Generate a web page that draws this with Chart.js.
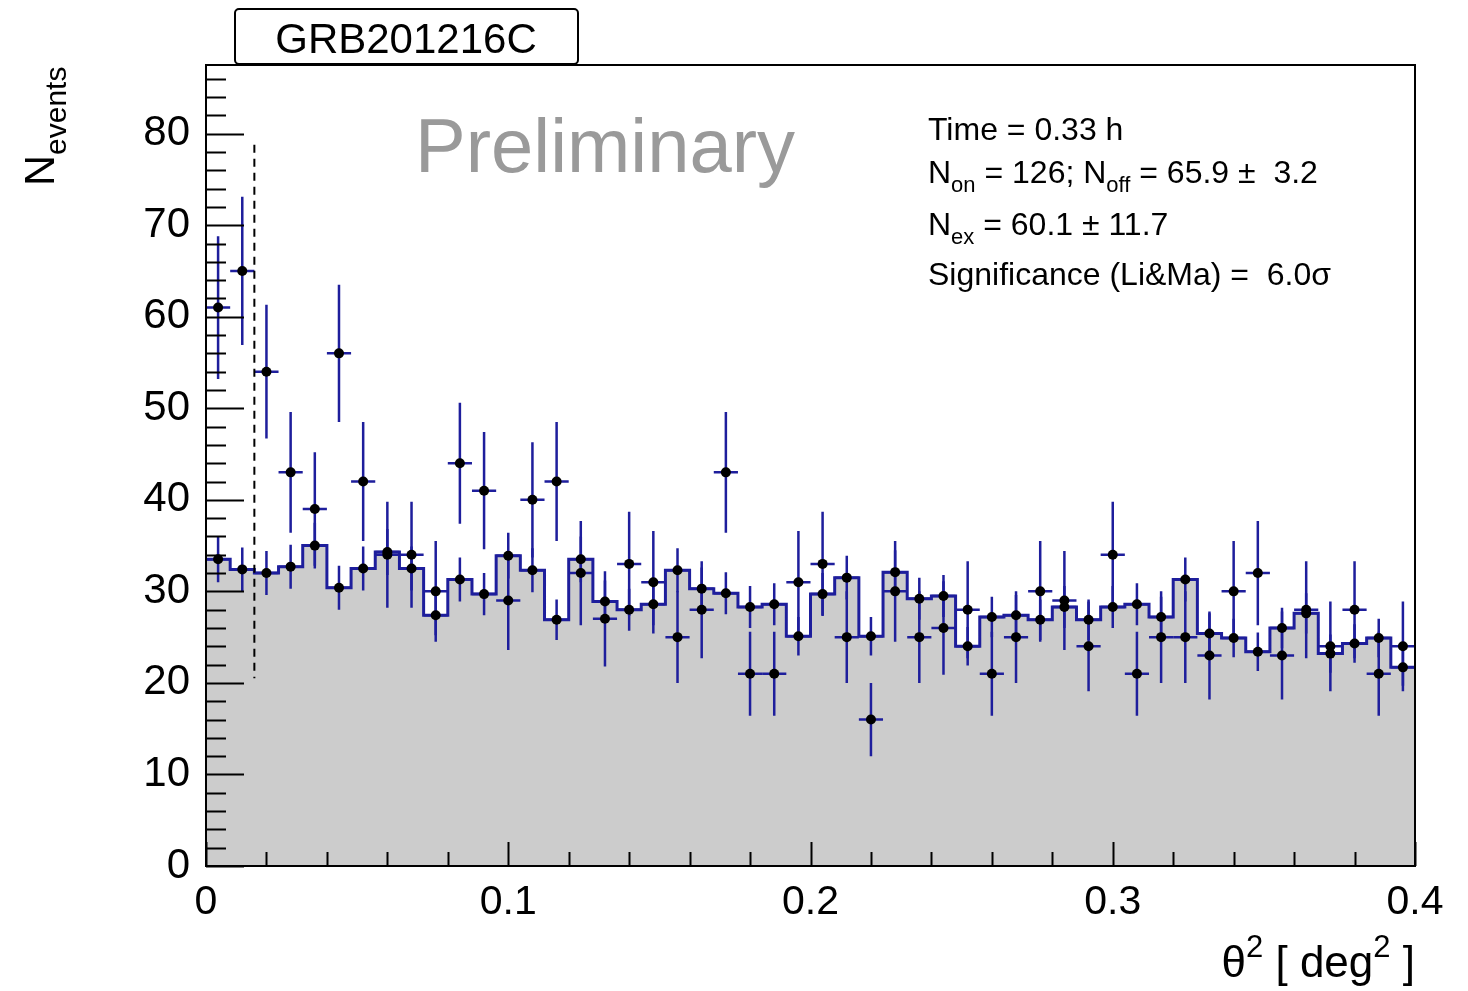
<!DOCTYPE html>
<html>
<head>
<meta charset="utf-8">
<script src="https://cdn.jsdelivr.net/npm/chart.js@4.4.1/dist/chart.umd.min.js"></script>
<style>
  html, body { margin: 0; padding: 0; background: #fff; }
</style>
</head>
<body>
<canvas id="theta2" width="1468" height="991"></canvas>
<script>
// theta^2 distribution, 50 bins of 0.008 deg^2
const binWidth = 0.008;
const nBins = 50;

// ON counts per bin
const onCounts = [61, 65, 54, 43, 39, 56, 42, 34, 34, 30, 44, 41, 29, 40, 42, 32, 27, 33, 31, 25,
                  28, 43, 21, 21, 31, 33, 25, 16, 30, 25, 26, 28, 21, 25, 30, 29, 24, 34, 21, 25,
                  25, 23, 30, 32, 23, 28, 24, 28, 21, 24];
const onErrors = [7.8, 8.1, 7.3, 6.6, 6.2, 7.5, 6.5, 5.8, 5.8, 5.5, 6.6, 6.4, 5.4, 6.3, 6.5, 5.7, 5.2, 5.7, 5.6, 5.0,
                  5.3, 6.6, 4.6, 4.6, 5.6, 5.7, 5.0, 4.0, 5.5, 5.0, 5.1, 5.3, 4.6, 5.0, 5.5, 5.4, 4.9, 5.8, 4.6, 5.0,
                  5.0, 4.8, 5.5, 5.7, 4.8, 5.3, 4.9, 5.3, 4.6, 4.9];

// normalised OFF counts per bin
const offCounts = [33.5, 32.4, 32.0, 32.7, 35.0, 30.4, 32.5, 34.3, 32.5, 27.4, 31.3, 29.7, 33.9, 32.3, 26.9, 33.5, 28.9, 28.0, 28.6, 32.3,
                   30.3, 29.8, 28.3, 28.6, 25.1, 29.7, 31.5, 25.1, 32.1, 29.2, 29.5, 24.0, 27.2, 27.4, 26.9, 28.3, 26.9, 28.3, 28.6, 27.2,
                   31.3, 25.4, 24.9, 23.4, 26.0, 27.6, 23.2, 24.3, 24.9, 21.7];
const offErrors = [2.5, 2.4, 2.4, 2.4, 2.5, 2.4, 2.4, 2.5, 2.4, 2.2, 2.4, 2.3, 2.5, 2.4, 2.2, 2.5, 2.3, 2.3, 2.3, 2.4,
                   2.3, 2.3, 2.3, 2.3, 2.1, 2.3, 2.4, 2.1, 2.4, 2.3, 2.3, 2.1, 2.2, 2.2, 2.2, 2.3, 2.2, 2.3, 2.3, 2.2,
                   2.4, 2.2, 2.1, 2.1, 2.2, 2.2, 2.1, 2.1, 2.1, 2.0];

const thetaCut = 0.016;
const cutLineRange = [20.5, 78.8];

const sourceName = "GRB201216C";
const statLines = [
  [["Time = 0.33 h"]],
  [["N"], ["on", "sub"], [" = 126; N"], ["off", "sub"], [" = 65.9 \u00B1  3.2"]],
  [["N"], ["ex", "sub"], [" = 60.1 \u00B1 11.7"]],
  [["Significance (Li&Ma) =  6.0\u03C3"]]
];

const FONT = "'Liberation Sans', Arial, Helvetica, sans-serif";
const BLUE = "#1e1e9c";

const centers = onCounts.map((_, i) => (i + 0.5) * binWidth);
const onPoints = onCounts.map((v, i) => ({ x: centers[i], y: v }));
const offPoints = offCounts.map((v, i) => ({ x: centers[i], y: v }));
// histogram outline: one point per bin's left edge, plus the last right edge
const offSteps = offCounts.map((v, i) => ({ x: i * binWidth, y: v }));
offSteps.push({ x: nBins * binWidth, y: offCounts[nBins - 1] });

function drawRich(ctx, parts, x, y, size) {
  let cx = x;
  parts.forEach(([t, kind]) => {
    const s = kind ? Math.round(size * 0.7) : size;
    const dy = kind === "sub" ? size * 0.28 : kind === "sup" ? -size * 0.45 : 0;
    ctx.font = s + "px " + FONT;
    ctx.fillText(t, cx, y + dy);
    cx += ctx.measureText(t).width;
  });
  return cx - x;
}

function measureRich(ctx, parts, size) {
  let w = 0;
  parts.forEach(([t, kind]) => {
    const s = kind ? Math.round(size * 0.7) : size;
    ctx.font = s + "px " + FONT;
    w += ctx.measureText(t).width;
  });
  return w;
}

const errorBars = {
  id: "errorBars",
  afterDatasetDraw(chart, args) {
    if (args.index !== 2) return;
    const { ctx, scales: { x, y } } = chart;
    ctx.save();
    ctx.strokeStyle = BLUE;
    ctx.lineWidth = 2.5;
    const draw = (vals, errs) => {
      vals.forEach((v, i) => {
        const px = x.getPixelForValue(centers[i]);
        const x0 = x.getPixelForValue(i * binWidth);
        const x1 = x.getPixelForValue((i + 1) * binWidth);
        const py = y.getPixelForValue(v);
        ctx.beginPath();
        ctx.moveTo(px, y.getPixelForValue(v - errs[i]));
        ctx.lineTo(px, y.getPixelForValue(v + errs[i]));
        ctx.moveTo(x0, py);
        ctx.lineTo(x1, py);
        ctx.stroke();
      });
    };
    draw(offCounts, offErrors);
    draw(onCounts, onErrors);
    ctx.restore();
  }
};

const decorations = {
  id: "decorations",
  afterDatasetsDraw(chart) {
    const { ctx, chartArea: a, scales: { x, y } } = chart;
    ctx.save();
    ctx.strokeStyle = "#000";
    ctx.lineWidth = 2;

    // inward ticks on y
    for (let v = 0; v <= 86; v += 2) {
      const py = Math.round(y.getPixelForValue(v)) + 0.5;
      const len = v % 10 === 0 ? 38 : 20;
      ctx.beginPath();
      ctx.moveTo(a.left, py);
      ctx.lineTo(a.left + len, py);
      ctx.stroke();
    }
    // inward ticks on x
    for (let k = 0; k <= 20; k++) {
      const px = Math.round(x.getPixelForValue(k * 0.02)) + 0.5;
      const len = k % 5 === 0 ? 24 : 14;
      ctx.beginPath();
      ctx.moveTo(px, a.bottom);
      ctx.lineTo(px, a.bottom - len);
      ctx.stroke();
    }

    // signal region cut
    ctx.setLineDash([8, 6]);
    const cx = x.getPixelForValue(thetaCut);
    ctx.beginPath();
    ctx.moveTo(cx, y.getPixelForValue(cutLineRange[1]));
    ctx.lineTo(cx, y.getPixelForValue(cutLineRange[0]));
    ctx.stroke();
    ctx.setLineDash([]);

    // frame
    ctx.strokeRect(a.left, a.top, a.right - a.left, a.bottom - a.top);
    ctx.restore();
  },
  afterDraw(chart) {
    const { ctx, chartArea: a } = chart;
    ctx.save();
    ctx.fillStyle = "#000";
    ctx.strokeStyle = "#000";
    ctx.textBaseline = "alphabetic";

    // title box
    ctx.lineWidth = 2;
    ctx.beginPath();
    ctx.roundRect(235, 9, 343, 55, 4);
    ctx.stroke();
    ctx.font = "42px " + FONT;
    ctx.textAlign = "center";
    ctx.fillText(sourceName, 406, 53);

    // preliminary label
    ctx.textAlign = "left";
    ctx.fillStyle = "#9a9a9a";
    ctx.font = "76px " + FONT;
    ctx.fillText("Preliminary", 415, 172);

    // statistics
    ctx.fillStyle = "#000";
    const baselines = [140, 183, 235, 285];
    statLines.forEach((parts, i) => drawRich(ctx, parts, 928, baselines[i], 32));

    // x axis title
    const xTitle = [["\u03B8"], ["2", "sup"], [" [ deg"], ["2", "sup"], [" ]"]];
    const w = measureRich(ctx, xTitle, 44);
    drawRich(ctx, xTitle, a.right - w, 977, 44);

    // y axis title
    ctx.translate(54, 186);
    ctx.rotate(-Math.PI / 2);
    drawRich(ctx, [["N"], ["events", "sub"]], 0, 0, 43);
    ctx.restore();
  }
};

new Chart(document.getElementById("theta2"), {
  type: "line",
  data: {
    datasets: [
      {
        label: "ON",
        data: onPoints,
        showLine: false,
        pointRadius: 5,
        pointBackgroundColor: "#000",
        pointBorderColor: "#000",
        pointBorderWidth: 0
      },
      {
        label: "OFF",
        data: offPoints,
        showLine: false,
        pointRadius: 5,
        pointBackgroundColor: "#000",
        pointBorderColor: "#000",
        pointBorderWidth: 0
      },
      {
        label: "OFF histogram",
        data: offSteps,
        stepped: "before",
        borderColor: BLUE,
        borderWidth: 3,
        backgroundColor: "#cccccc",
        fill: "origin",
        pointRadius: 0
      }
    ]
  },
  options: {
    responsive: false,
    animation: false,
    layout: { padding: { left: 0, top: 65, right: 53, bottom: 0 } },
    plugins: { legend: { display: false }, tooltip: { enabled: false } },
    scales: {
      x: {
        type: "linear",
        min: 0,
        max: 0.4,
        grid: { display: false, drawTicks: false },
        border: { display: false },
        afterFit(scale) { scale.height = 125; },
        ticks: {
          stepSize: 0.1,
          padding: 12,
          color: "#000",
          font: { family: FONT, size: 41 },
          maxRotation: 0
        }
      },
      y: {
        min: 0,
        max: 87.5,
        grid: { display: false, drawTicks: false },
        border: { display: false },
        afterFit(scale) { scale.width = 206; },
        afterBuildTicks(scale) {
          scale.ticks = scale.ticks.filter(t => t.value % 10 === 0 && t.value <= 80);
        },
        ticks: {
          stepSize: 10,
          padding: 16,
          color: "#000",
          font: { family: FONT, size: 42 }
        }
      }
    }
  },
  plugins: [errorBars, decorations]
});
</script>
</body>
</html>
